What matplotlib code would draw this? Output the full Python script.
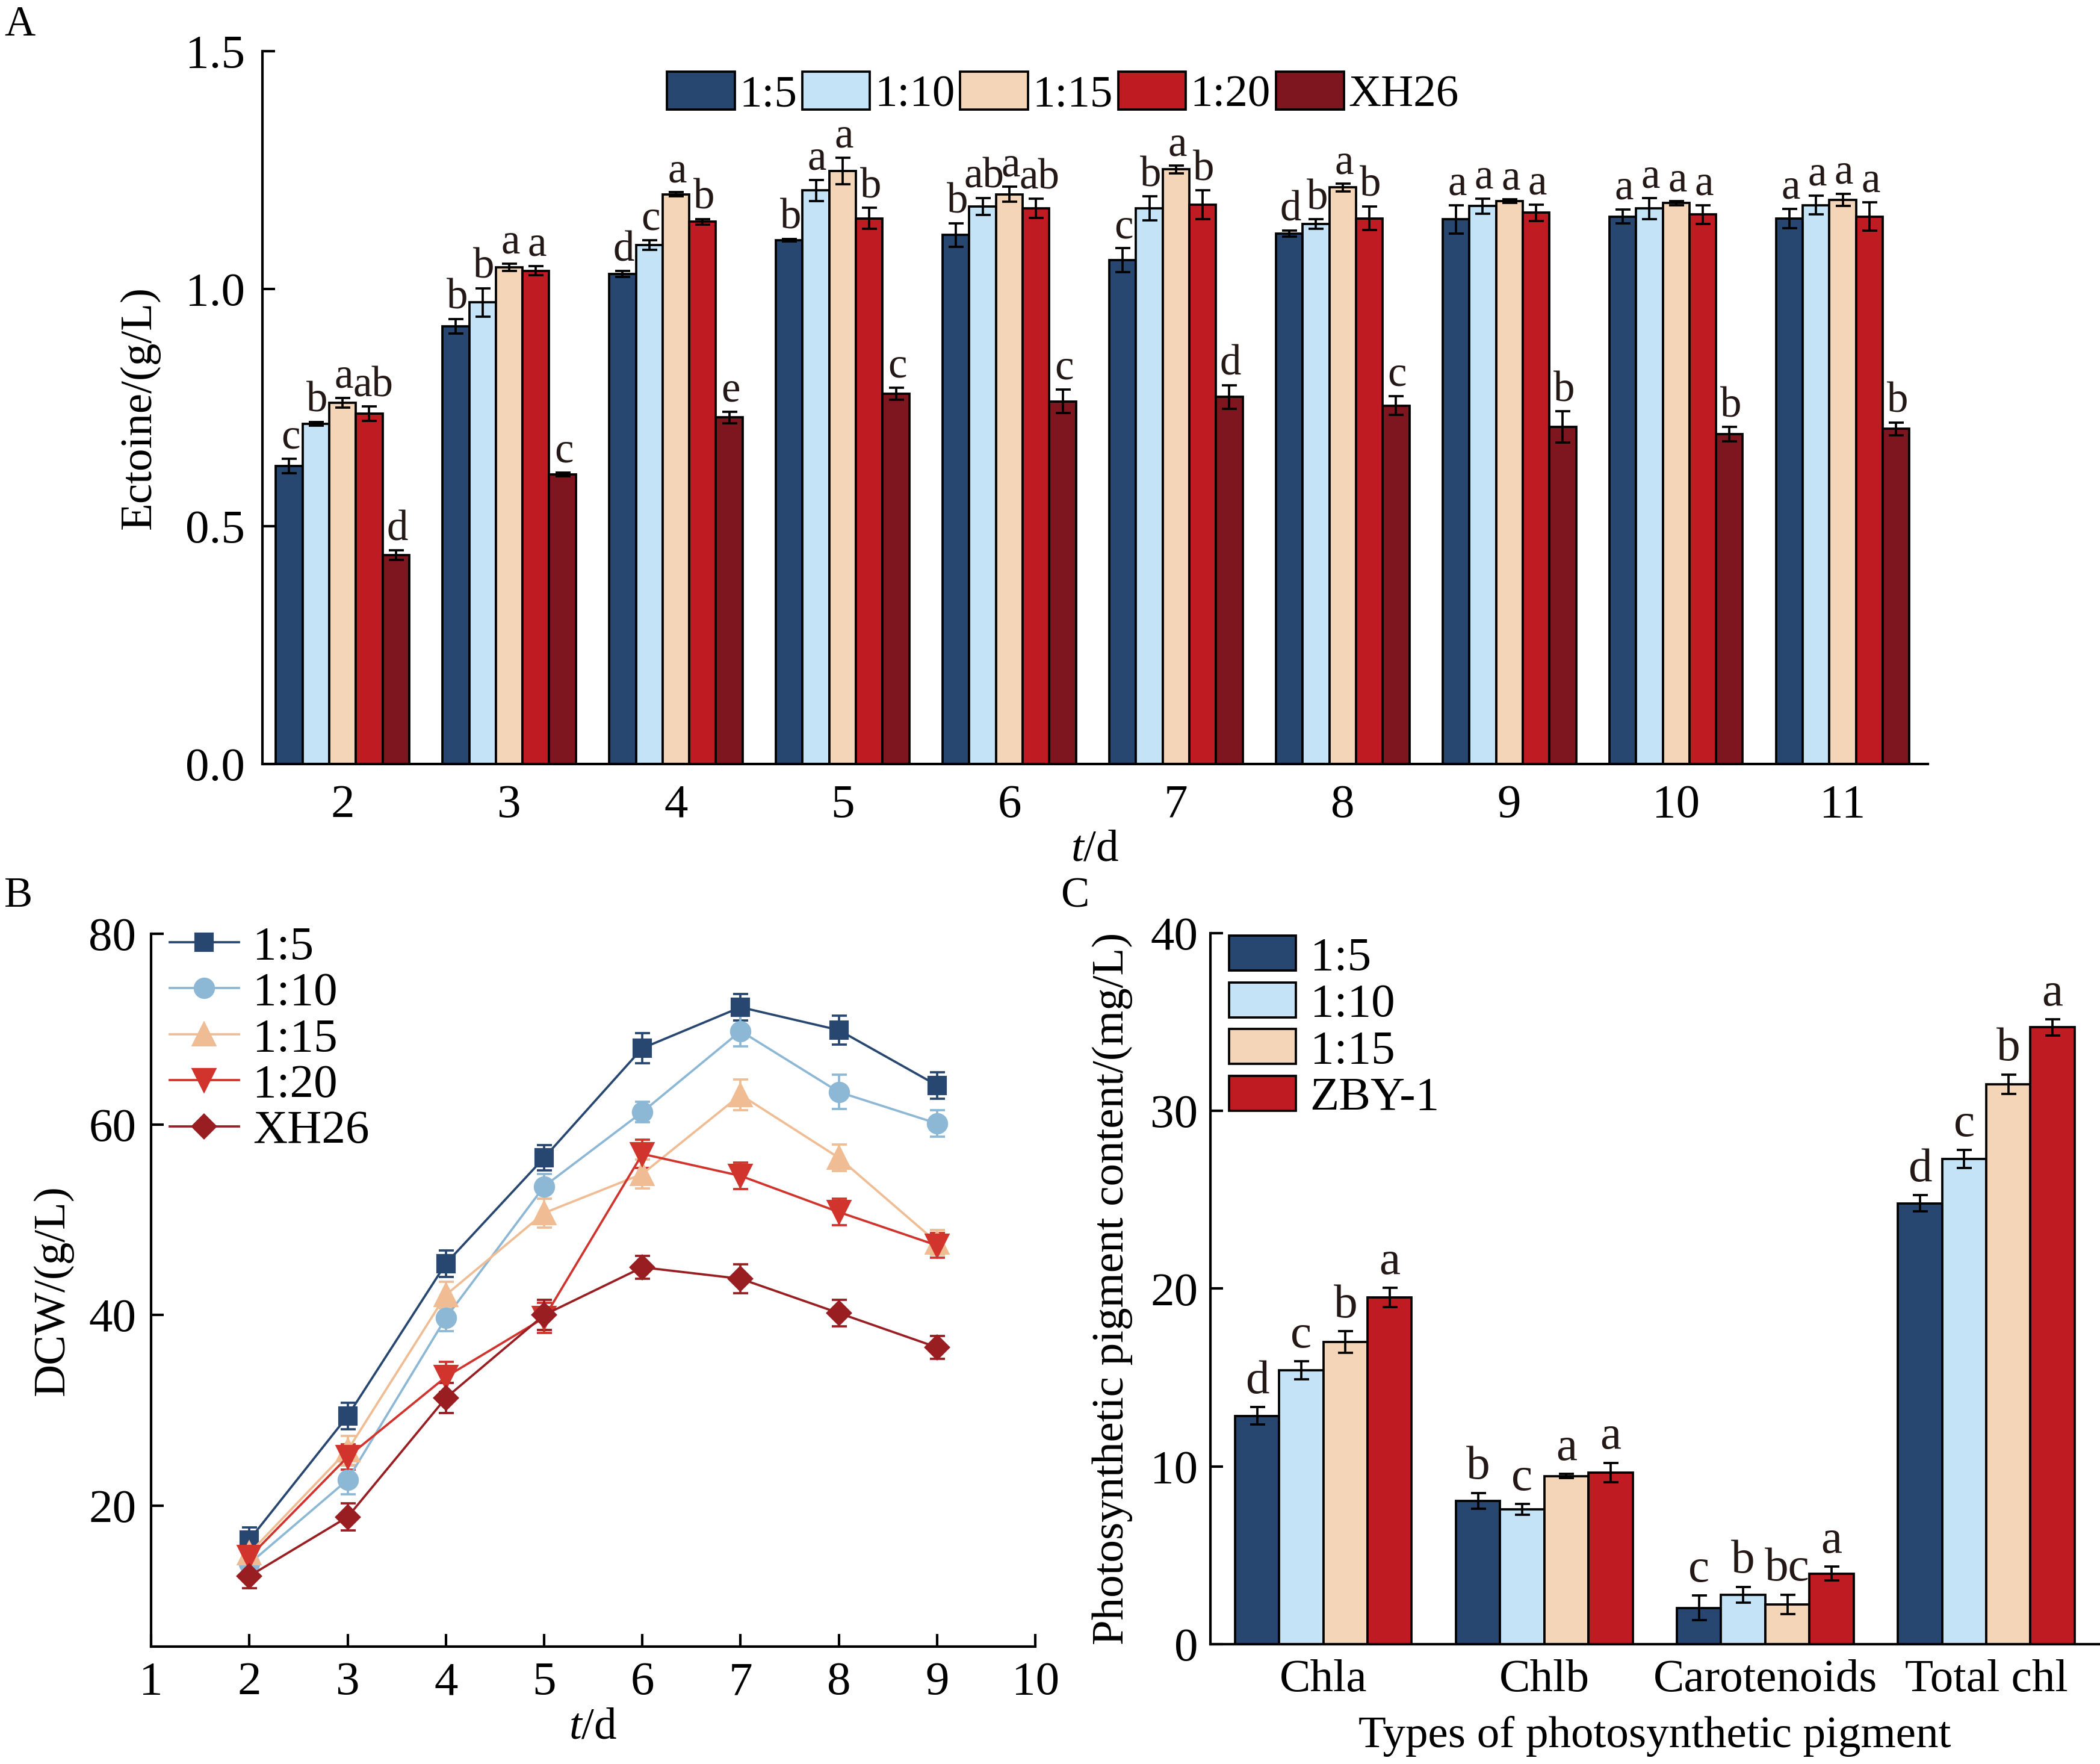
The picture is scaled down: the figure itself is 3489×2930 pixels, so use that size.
import numpy as np
import matplotlib.pyplot as plt
from matplotlib.patches import Patch
from matplotlib.lines import Line2D

plt.rcParams['font.family'] = ['Liberation Serif', 'DejaVu Serif']
plt.rcParams['mathtext.fontset'] = 'custom'
plt.rcParams['mathtext.rm'] = 'Liberation Serif'
plt.rcParams['mathtext.it'] = 'Liberation Serif:italic'
plt.rcParams['font.size'] = 19
plt.rcParams['axes.labelsize'] = 18
plt.rcParams['axes.linewidth'] = 1.0

# ---- panel A: ectoine ----
days_a = [2, 3, 4, 5, 6, 7, 8, 9, 10, 11]
groups_a = ["1:5", "1:10", "1:15", "1:20", "XH26"]
ect_1_5 = [0.627, 0.921, 1.031, 1.102, 1.113, 1.060, 1.116, 1.146, 1.152, 1.148]
ect_1_10 = [0.716, 0.971, 1.092, 1.207, 1.173, 1.169, 1.136, 1.174, 1.169, 1.176]
ect_1_15 = [0.760, 1.045, 1.199, 1.248, 1.199, 1.251, 1.213, 1.184, 1.180, 1.187]
ect_1_20 = [0.737, 1.038, 1.141, 1.148, 1.169, 1.177, 1.148, 1.160, 1.156, 1.152]
ect_xh26 = [0.439, 0.609, 0.729, 0.779, 0.763, 0.772, 0.754, 0.709, 0.694, 0.705]
err_1_5 = [0.015, 0.015, 0.006, 0.003, 0.025, 0.025, 0.006, 0.030, 0.015, 0.020]
err_1_10 = [0.004, 0.030, 0.010, 0.022, 0.018, 0.025, 0.010, 0.016, 0.022, 0.020]
err_1_15 = [0.010, 0.008, 0.004, 0.028, 0.016, 0.008, 0.008, 0.004, 0.004, 0.013]
err_1_20 = [0.015, 0.010, 0.006, 0.022, 0.020, 0.030, 0.025, 0.017, 0.020, 0.030]
err_xh26 = [0.010, 0.004, 0.012, 0.013, 0.025, 0.025, 0.020, 0.033, 0.015, 0.013]
let_1_5 = ["c", "b", "d", "b", "b", "c", "d", "a", "a", "a"]
let_1_10 = ["b", "b", "c", "a", "ab", "b", "b", "a", "a", "a"]
let_1_15 = ["a", "a", "a", "a", "a", "a", "a", "a", "a", "a"]
let_1_20 = ["ab", "a", "b", "b", "ab", "b", "b", "a", "a", "a"]
let_xh26 = ["d", "c", "e", "c", "c", "d", "c", "b", "b", "b"]

# ---- panel B: DCW ----
days_b = [2, 3, 4, 5, 6, 7, 8, 9]
groups_b = ["1:5", "1:10", "1:15", "1:20", "XH26"]
dcw_1_5 = [16.4, 29.4, 45.4, 56.5, 68.0, 72.3, 69.9, 64.1]
dcw_1_10 = [13.9, 22.7, 39.7, 53.5, 61.3, 69.8, 63.4, 60.1]
dcw_1_15 = [15.0, 25.8, 42.1, 50.7, 54.8, 63.1, 56.5, 47.6]
dcw_1_20 = [14.6, 25.1, 33.5, 39.7, 56.9, 54.6, 50.8, 47.3]
dcw_xh26 = [12.6, 18.8, 31.3, 40.0, 45.0, 43.8, 40.2, 36.6]
dcw_err_1_5 = [1.3, 1.4, 1.4, 1.3, 1.6, 1.4, 1.5, 1.4]
dcw_err_1_10 = [1.2, 1.5, 1.4, 1.3, 1.1, 1.6, 1.8, 1.4]
dcw_err_1_15 = [1.2, 1.5, 1.4, 1.5, 1.5, 1.6, 1.4, 1.3]
dcw_err_1_20 = [1.3, 1.3, 1.6, 1.6, 1.5, 1.4, 1.4, 1.3]
dcw_err_xh26 = [1.3, 1.4, 1.6, 1.6, 1.2, 1.5, 1.4, 1.2]

# ---- panel C: pigments ----
pigments = ["Chla", "Chlb", "Carotenoids", "Total chl"]
groups_c = ["1:5", "1:10", "1:15", "ZBY-1"]
pig_1_5 = [12.84, 8.06, 2.03, 24.8]
pig_1_10 = [15.40, 7.58, 2.77, 27.3]
pig_1_15 = [17.00, 9.45, 2.23, 31.5]
pig_zby1 = [19.50, 9.65, 3.97, 34.7]
pig_err_1_5 = [0.50, 0.45, 0.70, 0.45]
pig_err_1_10 = [0.50, 0.30, 0.45, 0.50]
pig_err_1_15 = [0.60, 0.12, 0.55, 0.55]
pig_err_zby1 = [0.55, 0.55, 0.40, 0.45]
pig_let_1_5 = ["d", "b", "c", "d"]
pig_let_1_10 = ["c", "c", "b", "c"]
pig_let_1_15 = ["b", "a", "bc", "b"]
pig_let_zby1 = ["a", "a", "a", "a"]

bar_colors = ["#274670", "#C5E3F6", "#F5D5B8", "#BE1B23", "#7D161F"]
line_colors = ["#274670", "#8CB8D6", "#F0BC94", "#D0342C", "#991E22"]
markers = ["s", "o", "^", "v", "D"]
msizes = [6.5, 7.5, 8.5, 8.5, 6.5]

fig = plt.figure(figsize=(3489 / 300, 2930 / 300), dpi=300)

# ================= A =================
axA = fig.add_axes([0.125, 0.567, 0.793, 0.404])
x = np.arange(len(days_a))
vals = [ect_1_5, ect_1_10, ect_1_15, ect_1_20, ect_xh26]
errs = [err_1_5, err_1_10, err_1_15, err_1_20, err_xh26]
lets = [let_1_5, let_1_10, let_1_15, let_1_20, let_xh26]
w = 0.16
for i in range(5):
    pos = x + (i - 2) * w
    axA.bar(pos, vals[i], w, color=bar_colors[i], edgecolor="black",
            linewidth=0.9, label=groups_a[i], zorder=2)
    axA.errorbar(pos, vals[i], yerr=errs[i], fmt="none", ecolor="black",
                 elinewidth=0.9, capsize=3, capthick=0.9, zorder=3)
    for p, v, e, t in zip(pos, vals[i], errs[i], lets[i]):
        dx = 1.5 if len(t) > 1 and i == 3 else 0.5
        axA.annotate(t, (p, v + e), xytext=(dx, 0.5), textcoords="offset points",
                     ha="center", va="bottom", fontsize=17, color="#231815")
axA.set_xlim(-0.48, 9.51)
axA.set_ylim(0, 1.5)
axA.set_xticks(x)
axA.set_xticklabels([str(d) for d in days_a])
axA.set_yticks([0.0, 0.5, 1.0, 1.5])
axA.set_yticklabels(["0.0", "0.5", "1.0", "1.5"])
axA.tick_params(axis="y", direction="in", length=5, width=1.0, pad=7)
axA.tick_params(axis="x", length=0, pad=8)
axA.spines["top"].set_visible(False)
axA.spines["right"].set_visible(False)
axA.set_xlabel(r"$\mathit{t}$/d", labelpad=1)
axA.set_ylabel("Ectoine/(g/L)", labelpad=10)
handlesA = [Patch(facecolor=c, edgecolor="black", linewidth=0.9) for c in bar_colors]
axA.legend(handlesA, groups_a, loc="center left", bbox_to_anchor=(0.232, 0.94),
           ncol=5, frameon=False, handlelength=1.5, handleheight=0.9,
           handletextpad=0.1, columnspacing=0.12, borderaxespad=0, fontsize=18)

# ================= B =================
axB = fig.add_axes([0.072, 0.0666, 0.421, 0.404])
dvals = [dcw_1_5, dcw_1_10, dcw_1_15, dcw_1_20, dcw_xh26]
derrs = [dcw_err_1_5, dcw_err_1_10, dcw_err_1_15, dcw_err_1_20, dcw_err_xh26]
for i in range(5):
    axB.errorbar(days_b, dvals[i], yerr=derrs[i], color=line_colors[i],
                 marker=markers[i], markersize=msizes[i], linewidth=0.9,
                 elinewidth=0.9, capsize=3, capthick=0.9, label=groups_b[i])
axB.set_xlim(1, 10)
axB.set_ylim(5.2, 80)
axB.set_xticks(range(1, 11))
axB.set_yticks([20, 40, 60, 80])
axB.tick_params(axis="both", direction="in", length=5, width=1.0, pad=6)
axB.spines["top"].set_visible(False)
axB.spines["right"].set_visible(False)
axB.set_xlabel(r"$\mathit{t}$/d", labelpad=1)
axB.set_ylabel("DCW/(g/L)", labelpad=6)
handlesB = [Line2D([], [], color=line_colors[i], marker=markers[i],
                   markersize=msizes[i], linewidth=0.9) for i in range(5)]
axB.legend(handlesB, groups_b, loc="upper left", bbox_to_anchor=(0.01, 1.025),
           frameon=False, handlelength=1.45, handletextpad=0.3, borderpad=0.2,
           labelspacing=0.05, borderaxespad=0, fontsize=19)

# ================= C =================
axC = fig.add_axes([0.5765, 0.068, 0.423, 0.403])
xc = np.arange(len(pigments))
cvals = [pig_1_5, pig_1_10, pig_1_15, pig_zby1]
cerrs = [pig_err_1_5, pig_err_1_10, pig_err_1_15, pig_err_zby1]
clets = [pig_let_1_5, pig_let_1_10, pig_let_1_15, pig_let_zby1]
wc = 0.2
for i in range(4):
    pos = xc + (i - 1.5) * wc
    axC.bar(pos, cvals[i], wc, color=bar_colors[i], edgecolor="black",
            linewidth=0.9, zorder=2)
    axC.errorbar(pos, cvals[i], yerr=cerrs[i], fmt="none", ecolor="black",
                 elinewidth=0.9, capsize=3, capthick=0.9, zorder=3)
    for p, v, e, t in zip(pos, cvals[i], cerrs[i], clets[i]):
        axC.annotate(t, (p, v + e), xytext=(0, 1.5), textcoords="offset points",
                     ha="center", va="bottom", fontsize=19, color="#231815")
axC.set_xlim(-0.51, 3.51)
axC.set_ylim(0, 40)
axC.set_xticks(xc)
axC.set_xticklabels(pigments, fontsize=18.5)
axC.set_yticks([0, 10, 20, 30, 40])
axC.tick_params(axis="y", direction="in", length=5, width=1.0, pad=5)
axC.tick_params(axis="x", length=0, pad=6)
axC.spines["top"].set_visible(False)
axC.spines["right"].set_visible(False)
axC.set_xlabel("Types of photosynthetic pigment", labelpad=6)
axC.set_ylabel("Photosynthetic pigment content/(mg/L)", labelpad=7)
handlesC = [Patch(facecolor=c, edgecolor="black", linewidth=0.9) for c in bar_colors[:4]]
axC.legend(handlesC, groups_c, loc="upper left", bbox_to_anchor=(0.01, 1.01),
           frameon=False, handlelength=1.4, handleheight=0.75, borderpad=0.2,
           handletextpad=0.3, labelspacing=0.05, borderaxespad=0, fontsize=19)

# panel letters
fig.text(0.002, 0.997, "A", fontsize=17, va="top", ha="left")
fig.text(0.002, 0.503, "B", fontsize=17, va="top", ha="left")
fig.text(0.505, 0.503, "C", fontsize=17, va="top", ha="left")

fig.savefig("out.png", dpi=300)
